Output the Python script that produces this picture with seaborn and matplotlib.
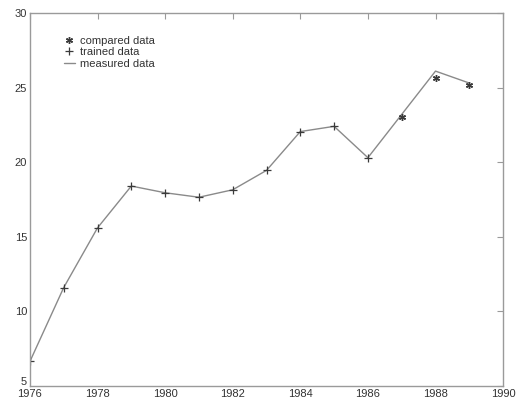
import numpy as np
import pandas as pd
import matplotlib
matplotlib.use("Agg")
import matplotlib.pyplot as plt
import matplotlib.transforms as mtransforms
import seaborn as sns

# values
years = [1976, 1977, 1978, 1979, 1980, 1981, 1982, 1983, 1984, 1985, 1986, 1987, 1988, 1989]
measured = [6.65, 11.6, 15.6, 18.4, 17.95, 17.65, 18.15, 19.45, 22.05, 22.4, 20.3, 23.2, 26.1, 25.3]
trained_years = [1976, 1977, 1978, 1979, 1980, 1981, 1982, 1983, 1984, 1985, 1986]
trained = [6.65, 11.6, 15.6, 18.4, 17.95, 17.65, 18.15, 19.45, 22.05, 22.4, 20.3]
compared_years = [1987, 1988, 1989]
compared = [23.05, 25.65, 25.15]

x_ticks = [1976, 1978, 1980, 1982, 1984, 1986, 1988, 1990]
y_ticks = [5, 10, 15, 20, 25, 30]

df_meas = pd.DataFrame({"Year": years, "Value": measured})
df_train = pd.DataFrame({"Year": trained_years, "Value": trained})
df_comp = pd.DataFrame({"Year": compared_years, "Value": compared})

sns.set_style("white")
plt.rcParams["font.family"] = ["Liberation Sans", "DejaVu Sans"]

fig = plt.figure(figsize=(5.16, 4.03), dpi=100)
ax = fig.add_axes([0.058, 0.042, 0.917, 0.926])

mk = "#3a3a3a"
# asterisk marker, like the MATLAB '*'
sns.lineplot(data=df_comp, x="Year", y="Value", ax=ax, marker=(6, 2, 0), linestyle="",
             color=mk, markersize=5, markeredgewidth=1.0, markeredgecolor=mk,
             label="compared data")
sns.lineplot(data=df_train, x="Year", y="Value", ax=ax, marker="+", linestyle="",
             color=mk, markersize=5.5, markeredgewidth=0.9, markeredgecolor=mk,
             label="trained data")
sns.lineplot(data=df_meas, x="Year", y="Value", ax=ax, color="#8a8a8a",
             linewidth=1.0, label="measured data", zorder=1)

ax.set_xlim(1976, 1990)
ax.set_ylim(5, 30)
ax.set_xticks(x_ticks)
ax.set_yticks(y_ticks)
ax.set_xlabel("")
ax.set_ylabel("")
ax.tick_params(direction="in", length=4, width=0.8, color="#9a9a9a",
               labelsize=8, labelcolor="#333333", top=True, right=True, pad=2)
for s in ax.spines.values():
    s.set_color("#9a9a9a")
    s.set_linewidth(1.0)

# nudge the lowest y label up so it sits above the 1976 label
lbl = ax.get_yticklabels()[0]
lbl.set_transform(lbl.get_transform() + mtransforms.ScaledTranslation(0, 4 / 72, fig.dpi_scale_trans))

leg = ax.legend(loc="upper left", bbox_to_anchor=(0.055, 0.96), frameon=False,
                fontsize=8, handlelength=1.0, handletextpad=0.5,
                labelspacing=0.15, borderaxespad=0.3)
for t in leg.get_texts():
    t.set_color("#333333")

fig.savefig("out.png", dpi=100)
